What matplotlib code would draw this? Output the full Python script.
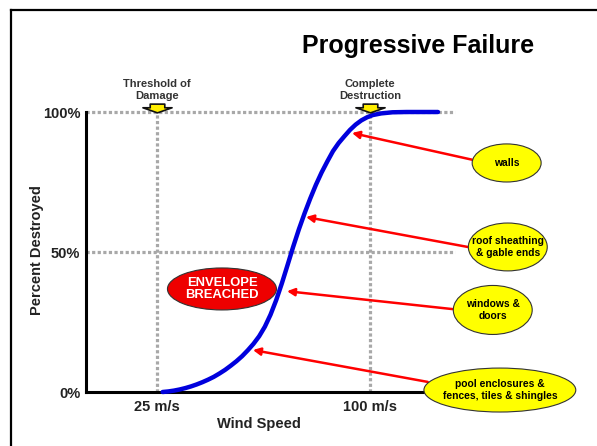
import matplotlib
matplotlib.use("Agg")
import matplotlib.pyplot as plt
from matplotlib.patches import Ellipse
from matplotlib.lines import Line2D
from matplotlib.path import Path

plt.rcParams["font.family"] = ["Liberation Sans", "DejaVu Sans"]

# Damage curve: wind speed (m/s) vs percent of structure destroyed
wind_speed = [27, 29, 31, 33, 35, 37, 39, 41, 43, 45, 47, 49, 51, 53, 55, 57,
              59, 61, 63, 65, 67, 69, 71, 73, 75, 77, 79, 81, 83, 85, 87, 89,
              91, 93, 95, 97, 99, 101, 104, 108, 113, 118, 124]
pct_destroyed = [0, 0.2, 0.5, 0.9, 1.4, 2.0, 2.7, 3.5, 4.4, 5.4, 6.6, 7.9, 9.4,
                 11.0, 12.8, 14.9, 17.2, 19.9, 23.3, 27.6, 32.8, 38.8, 45.3,
                 51.9, 58.1, 63.8, 69.1, 74.0, 78.4, 82.3, 86.0, 88.9, 91.3,
                 93.6, 95.5, 97.0, 98.1, 98.9, 99.5, 99.9, 100, 100, 100]

x_ticks = [25, 100]
x_tick_labels = ["25 m/s", "100 m/s"]
y_ticks = [0, 50, 100]
y_tick_labels = ["0%", "50%", "100%"]

milestone_speeds = [25, 100]
milestone_labels = ["Threshold of\nDamage", "Complete\nDestruction"]

# Building components and the point on the curve where each one fails
components = ["walls", "roof sheathing\n& gable ends", "windows &\ndoors",
              "pool enclosures &\nfences, tiles & shingles"]
failure_speed = [93.7, 77.5, 70.8, 58.8]
failure_pct = [92.5, 62.5, 36, 15]

# Callout placement (data units, drawn outside the plotting area)
callout_xy = [(148.2, 81.8), (148.6, 51.8), (143.3, 29.3), (145.8, 0.7)]
callout_size = [(24.3, 13.6), (27.8, 17.1), (27.8, 17.5), (53.5, 15.7)]
callout_tail = [(136.3, 82.9), (134.5, 51.8), (129.2, 29.6), (120.4, 3.6)]

W, H = 597, 446
fig = plt.figure(figsize=(W / 100, H / 100), dpi=100)
ax = fig.add_axes([86 / W, 54 / H, 369 / W, 280 / H])
ax.set_xlim(0, 130)
ax.set_ylim(0, 100)

# Page frame (top and left edges)
fig.add_artist(Line2D([11 / W, 11 / W], [0, 1 - 10 / H], color="black", lw=1.6,
                      transform=fig.transFigure))
fig.add_artist(Line2D([11 / W, 1], [1 - 10 / H, 1 - 10 / H], color="black", lw=1.6,
                      transform=fig.transFigure))

grid_kw = dict(color="#a8a8a8", lw=2.3, linestyles=(0, (1, 0.75)), zorder=1,
               clip_on=False)
ax.hlines([t for t in y_ticks if t > 0], 0, 130, **grid_kw)
ax.vlines(milestone_speeds, 0, 100, **grid_kw)

ax.plot(wind_speed, pct_destroyed, color="#0000dd", lw=3.2, zorder=3,
        solid_capstyle="round", solid_joinstyle="round", clip_on=False)

# Milestone pointers and labels above the 100% line
arrow_marker = Path([(-0.5, 0.3), (0.5, 0.3), (0.5, 0.05), (1, 0.05), (0, -0.3),
                     (-1, 0.05), (-0.5, 0.05), (-0.5, 0.3)], closed=True)
ax.plot(milestone_speeds, [101.3] * len(milestone_speeds), ls="none",
        marker=arrow_marker, ms=21, mfc="#ffee00", mec="#111111", mew=1.2,
        zorder=5, clip_on=False)
for xs, lab in zip(milestone_speeds, milestone_labels):
    ax.text(xs, 104.0, lab, ha="center", va="bottom", fontsize=8,
            fontweight="bold", color="#333333", linespacing=1.25, clip_on=False)

# Component callouts
for name, fx, fy, (cx, cy), (ew, eh), (tx, ty) in zip(
        components, failure_speed, failure_pct, callout_xy, callout_size,
        callout_tail):
    ax.annotate("", xy=(fx, fy), xytext=(tx, ty), zorder=4,
                arrowprops=dict(arrowstyle="-|>", color="#ff0000", lw=1.8,
                                mutation_scale=11, shrinkA=0, shrinkB=0),
                annotation_clip=False)
    ax.add_patch(Ellipse((cx, cy), ew, eh, facecolor="#ffff00",
                         edgecolor="#333333", lw=0.8, zorder=6, clip_on=False))
    ax.text(cx, cy, name, ha="center", va="center", fontsize=7.4,
            fontweight="bold", color="black", linespacing=1.15, zorder=7,
            clip_on=False)

ax.add_patch(Ellipse((47.9, 36.8), 38.4, 15, facecolor="#ee0000",
                     edgecolor="#333333", lw=0.8, zorder=6, clip_on=False))
ax.text(47.9, 36.8, "ENVELOPE\nBREACHED", ha="center", va="center",
        fontsize=9.4, fontweight="bold", color="white", linespacing=1.05,
        zorder=7, clip_on=False)

# Axes styling
for side in ("top", "right"):
    ax.spines[side].set_visible(False)
for side in ("left", "bottom"):
    ax.spines[side].set_linewidth(2.2)
    ax.spines[side].set_zorder(2)
ax.set_xticks(x_ticks, x_tick_labels)
ax.set_yticks(y_ticks, y_tick_labels)
ax.tick_params(axis="both", length=0, labelsize=10.5, labelcolor="#222222")
ax.tick_params(axis="y", pad=4)
ax.tick_params(axis="x", pad=6)
for lab in ax.get_xticklabels() + ax.get_yticklabels():
    lab.set_fontweight("bold")

ax.set_xlabel("Wind Speed", fontsize=10.5, fontweight="bold", color="#222222")
ax.xaxis.set_label_coords((259 - 86) / 369, (392 - 417) / 280)
ax.set_ylabel("Percent Destroyed", fontsize=10.5, fontweight="bold",
              color="#222222")
ax.yaxis.set_label_coords((44 - 86) / 369, (392 - 250) / 280)

fig.text(418 / W, 1 - 46 / H, "Progressive Failure", ha="center", va="center",
         fontsize=18, fontweight="bold", color="black")

fig.savefig("out.png", dpi=100, facecolor="white")
